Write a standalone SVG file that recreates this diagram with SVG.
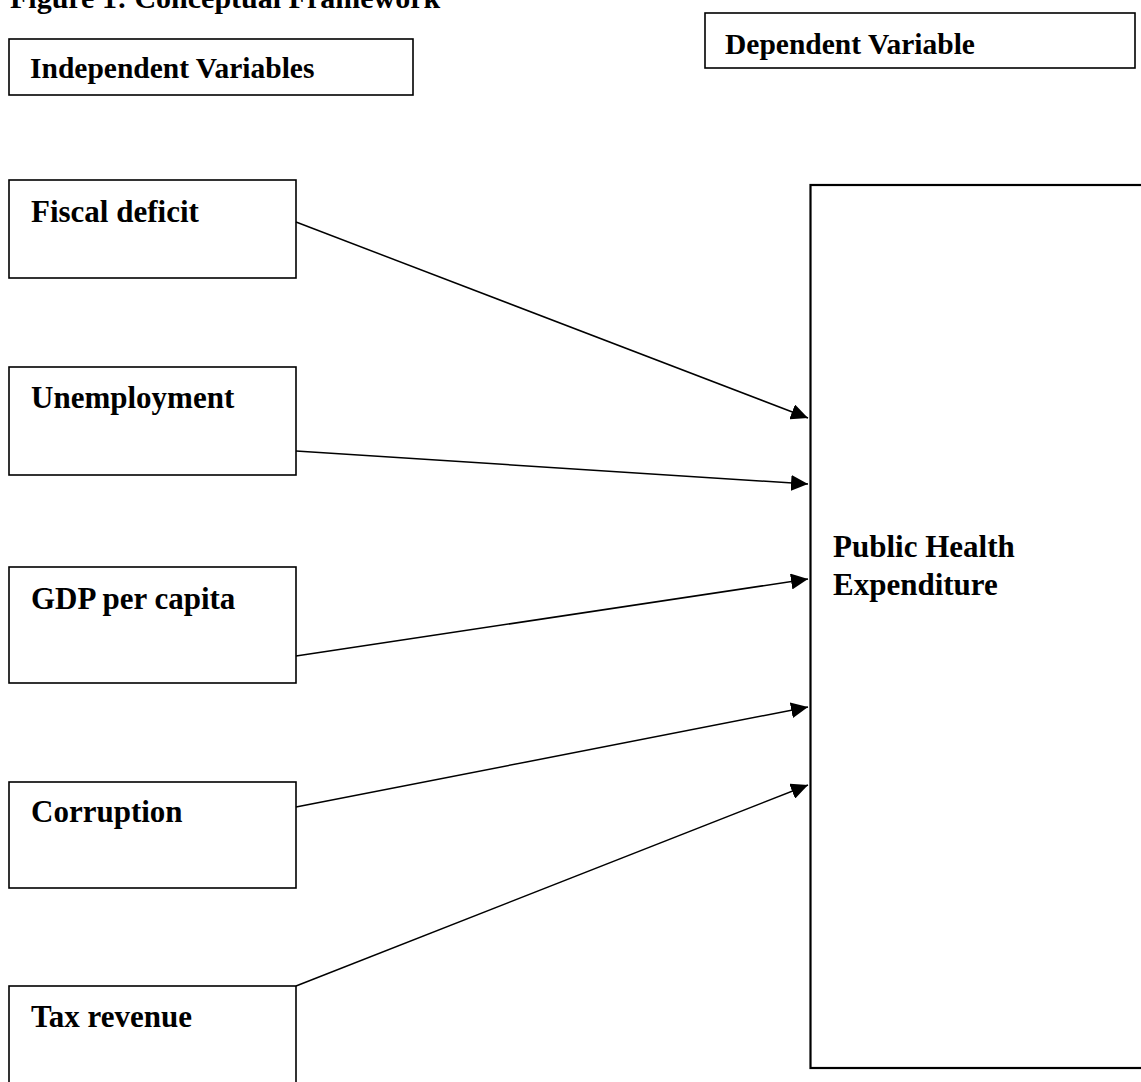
<svg xmlns="http://www.w3.org/2000/svg" width="1141" height="1082" viewBox="0 0 1141 1082">
<style>
.box{fill:#fff;stroke:#000;stroke-width:1.6}
.big{fill:#fff;stroke:#000;stroke-width:2.2}
.hdr{font-family:"Liberation Serif",serif;font-weight:bold;font-size:29.5px;fill:#000}
.ttl{font-family:"Liberation Serif",serif;font-weight:bold;font-size:30px;fill:#000}
.lbl{font-family:"Liberation Serif",serif;font-weight:bold;font-size:31px;fill:#000}
.con{stroke:#000;stroke-width:1.5;fill:none;marker-end:url(#ah)}
</style>
<defs>
<marker id="ah" markerUnits="userSpaceOnUse" markerWidth="20" markerHeight="16" refX="17" refY="8" orient="auto">
<path d="M0,0 L17,8 L0,16 Z" fill="#000"/>
</marker>
</defs>
<rect width="1141" height="1082" fill="#fff"/>
<text class="ttl" x="10" y="8">Figure 1: Conceptual Framework</text>
<g id="independent-header">
<rect class="box" x="9" y="39" width="404" height="56"/>
<text class="hdr" x="30" y="78">Independent Variables</text>
</g>
<g id="dependent-header">
<rect class="box" x="705" y="13" width="430" height="55"/>
<text class="hdr" x="725" y="54">Dependent Variable</text>
</g>
<g id="fiscal-deficit">
<rect class="box" x="9" y="180" width="287" height="98"/>
<text class="lbl" x="31" y="222">Fiscal deficit</text>
</g>
<g id="unemployment">
<rect class="box" x="9" y="367" width="287" height="108"/>
<text class="lbl" x="31" y="408">Unemployment</text>
</g>
<g id="gdp-per-capita">
<rect class="box" x="9" y="567" width="287" height="116"/>
<text class="lbl" x="31" y="609">GDP per capita</text>
</g>
<g id="corruption">
<rect class="box" x="9" y="782" width="287" height="106"/>
<text class="lbl" x="31" y="822">Corruption</text>
</g>
<g id="tax-revenue">
<rect class="box" x="9" y="986" width="287" height="120"/>
<text class="lbl" x="31" y="1027">Tax revenue</text>
</g>
<g id="public-health-expenditure">
<rect class="big" x="810.5" y="185" width="340" height="883"/>
<text class="lbl" x="833" y="557">Public Health</text>
<text class="lbl" x="833" y="595">Expenditure</text>
</g>
<g id="connectors">
<line class="con" x1="296" y1="222" x2="808" y2="418"/>
<line class="con" x1="296" y1="451" x2="808" y2="484"/>
<line class="con" x1="296" y1="656" x2="808" y2="579"/>
<line class="con" x1="296" y1="807" x2="808" y2="707"/>
<line class="con" x1="296" y1="986" x2="808" y2="785"/>
</g>
</svg>
